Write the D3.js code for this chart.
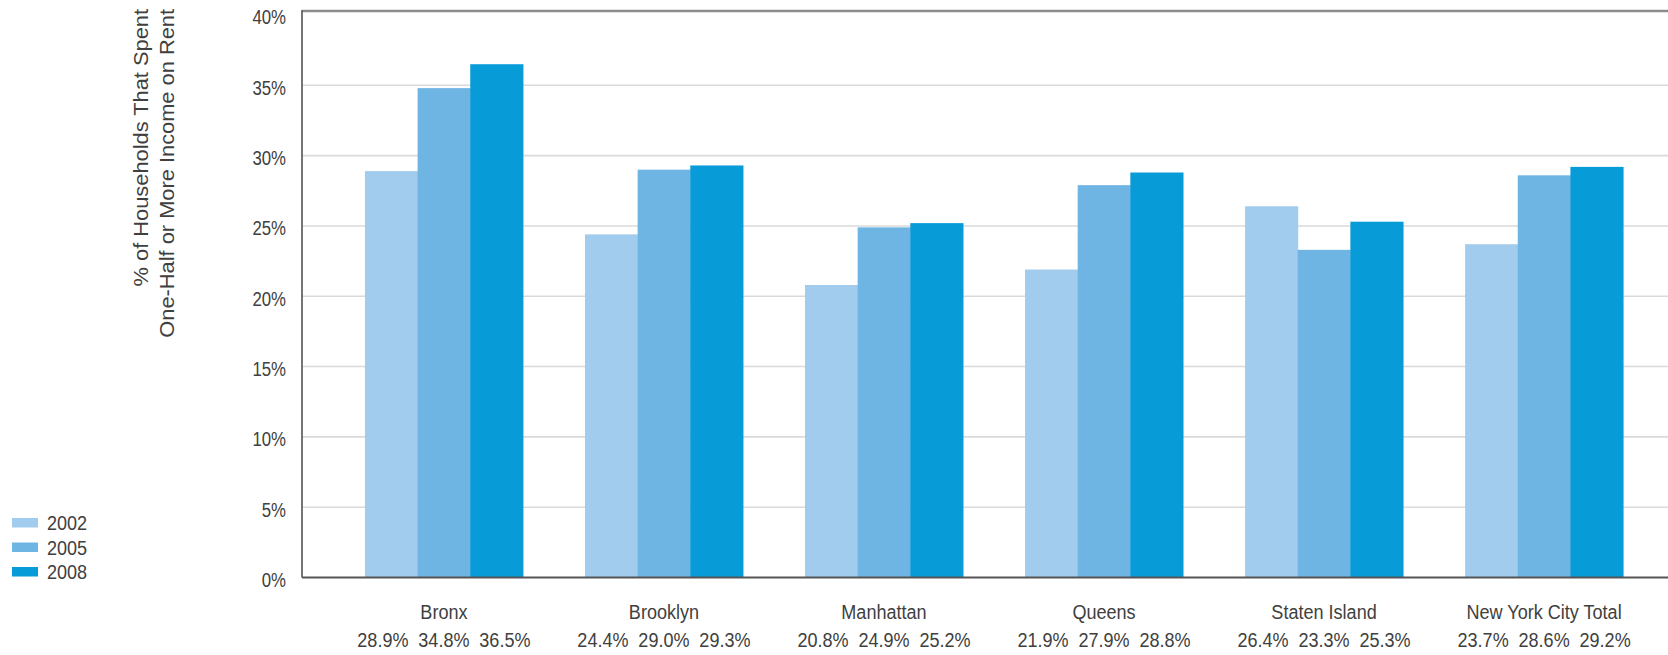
<!DOCTYPE html>
<html>
<head>
<meta charset="utf-8">
<script src="https://cdn.jsdelivr.net/npm/d3@7"></script>
<style>
  html, body { margin: 0; padding: 0; background: #fff; }
  svg { display: block; }
  text { font-family: "Liberation Sans", Arial, sans-serif; fill: #404040; }
</style>
</head>
<body>
<svg id="chart" width="1668" height="655"></svg>
<script>
// Share of households paying half or more of income on rent, by borough
const boroughs = ["Bronx", "Brooklyn", "Manhattan", "Queens", "Staten Island", "New York City Total"];
const years = ["2002", "2005", "2008"];
const values2002 = [28.9, 24.4, 20.8, 21.9, 26.4, 23.7];
const values2005 = [34.8, 29.0, 24.9, 27.9, 23.3, 28.6];
const values2008 = [36.5, 29.3, 25.2, 28.8, 25.3, 29.2];
const yTicks = [0, 5, 10, 15, 20, 25, 30, 35, 40];
const titleLines = ["% of Households That Spent", "One-Half or More Income on Rent"];

const seriesByYear = [values2002, values2005, values2008];
const colors = ["#a2ccee", "#6fb5e4", "#079bd8"];

const W = 1668;
const plotLeft = 302, plotTop = 11, baseY = 577.5;
const narrow = 0.86;     // horizontal squeeze for the condensed label face
const tickNarrow = 0.8;

const svg = d3.select("#chart");

const y = d3.scaleLinear().domain([0, 40]).range([baseY, 15]);
const x = d3.scaleBand().domain(boroughs).range([plotLeft, 1686])
  .paddingInner(0.282).paddingOuter(0.286);
const xi = d3.scaleBand().domain(years).range([0, x.bandwidth()]).padding(0);
const color = d3.scaleOrdinal().domain(years).range(colors);

// horizontal gridlines
svg.append("g")
  .selectAll("line")
  .data(yTicks.filter(t => t > 0 && t < 40))
  .join("line")
  .attr("x1", plotLeft).attr("x2", W)
  .attr("y1", d => y(d)).attr("y2", d => y(d))
  .attr("stroke", "#dadada").attr("stroke-width", 1.6);

// bars
const groups = svg.append("g")
  .selectAll("g")
  .data(boroughs)
  .join("g")
  .attr("transform", d => `translate(${x(d)},0)`);

groups.selectAll("rect")
  .data((d, i) => years.map((yr, k) => ({ year: yr, value: seriesByYear[k][i] })))
  .join("rect")
  .attr("x", d => xi(d.year))
  .attr("width", xi.bandwidth() + 0.5)
  .attr("y", d => y(d.value))
  .attr("height", d => y(0) - y(d.value))
  .attr("fill", d => color(d.year));

// frame: top and left rules, baseline
svg.append("line").attr("x1", plotLeft).attr("x2", W).attr("y1", plotTop).attr("y2", plotTop)
  .attr("stroke", "#8c8c8c").attr("stroke-width", 2.5);
svg.append("line").attr("x1", plotLeft).attr("x2", plotLeft).attr("y1", plotTop - 1).attr("y2", baseY)
  .attr("stroke", "#666").attr("stroke-width", 1.8);
svg.append("line").attr("x1", plotLeft).attr("x2", W).attr("y1", baseY).attr("y2", baseY)
  .attr("stroke", "#555").attr("stroke-width", 2.2);

// y axis labels
const yAxis = svg.append("g")
  .attr("transform", `translate(${plotLeft},0)`)
  .call(d3.axisLeft(y).tickValues(yTicks).tickSize(0).tickFormat(d => d + "%"));
yAxis.select(".domain").remove();
yAxis.selectAll("text")
  .attr("font-family", null)
  .attr("fill", null)
  .style("font-size", "21px")
  .attr("x", -16 / tickNarrow)
  .attr("dy", "0.42em")
  .attr("transform", `scale(${tickNarrow},1)`);

// category labels
const xAxis = svg.append("g")
  .attr("transform", `translate(0,${baseY})`)
  .call(d3.axisBottom(x).tickSize(0).tickPadding(0));
xAxis.select(".domain").remove();
xAxis.selectAll("text")
  .attr("font-family", null)
  .attr("fill", null)
  .style("font-size", "21px")
  .attr("y", 41.5).attr("dy", 0)
  .attr("transform", `scale(${narrow},1)`);

// value labels under each borough
const valueOffsets = [-61, 0, 61];
groups.selectAll("text.val")
  .data((d, i) => years.map((yr, k) => ({ k, value: seriesByYear[k][i] })))
  .join("text")
  .attr("class", "val")
  .attr("text-anchor", "middle")
  .style("font-size", "21px")
  .attr("transform", d => `translate(${x.bandwidth() / 2 + valueOffsets[d.k]},647) scale(${narrow},1)`)
  .text(d => d.value.toFixed(1) + "%");

// legend
const legend = svg.append("g")
  .selectAll("g")
  .data(years)
  .join("g")
  .attr("transform", (d, i) => `translate(12,${518 + i * 24.5})`);
legend.append("rect").attr("width", 26).attr("height", 9.5).attr("fill", d => color(d));
legend.append("text")
  .style("font-size", "21px")
  .attr("transform", `translate(35,12) scale(${narrow},1)`)
  .text(d => d);

// rotated axis title
svg.append("g")
  .selectAll("text")
  .data(titleLines)
  .join("text")
  .attr("text-anchor", "end")
  .style("font-size", "21px")
  .attr("transform", (d, i) => `translate(${148 + i * 26},9) rotate(-90) scale(1.04,1)`)
  .text(d => d);
</script>
</body>
</html>
